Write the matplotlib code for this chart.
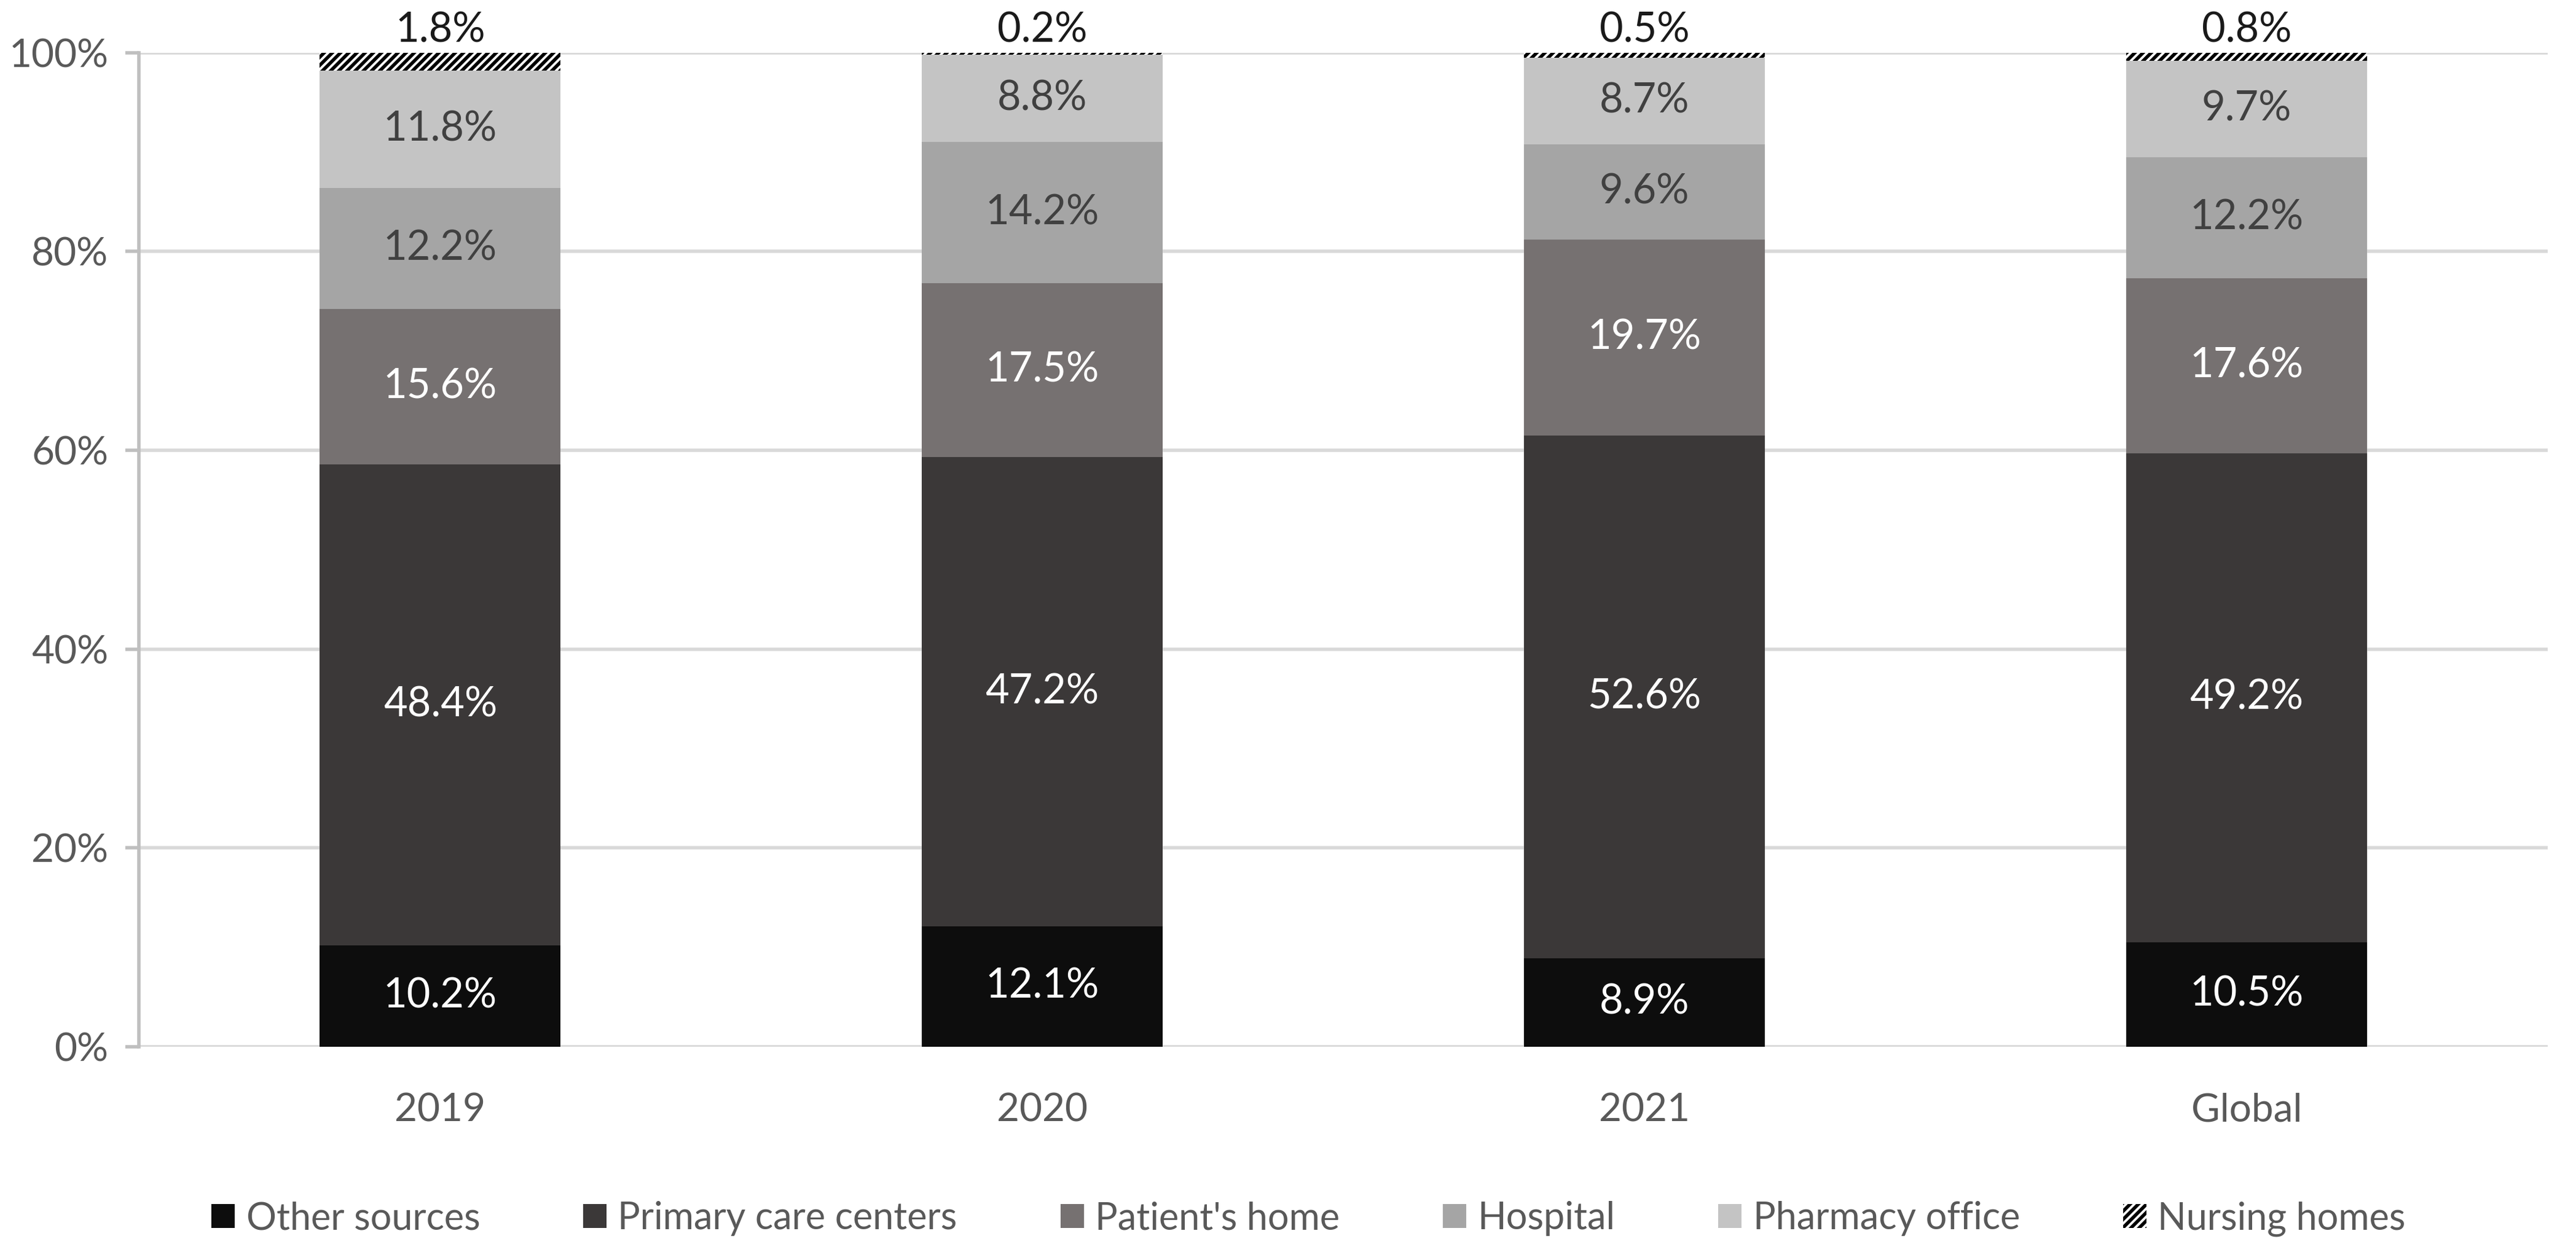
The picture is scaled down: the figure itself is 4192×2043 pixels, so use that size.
import numpy as np
import matplotlib
matplotlib.use("Agg")
import matplotlib.pyplot as plt

plt.rcParams['font.family'] = ['Lato', 'DejaVu Sans']
plt.rcParams['hatch.linewidth'] = 2.0

categories = ["2019", "2020", "2021", "Global"]
other = [10.2, 12.1, 8.9, 10.5]
primary = [48.4, 47.2, 52.6, 49.2]
patient = [15.6, 17.5, 19.7, 17.6]
hospital = [12.2, 14.2, 9.6, 12.2]
pharmacy = [11.8, 8.8, 8.7, 9.7]
nursing = [1.8, 0.2, 0.5, 0.8]

series = [
    ("Other sources", other, "#0d0d0d", "white"),
    ("Primary care centers", primary, "#3b3838", "white"),
    ("Patient's home", patient, "#767171", "white"),
    ("Hospital", hospital, "#a5a5a5", "#404040"),
    ("Pharmacy office", pharmacy, "#c4c4c4", "#404040"),
]

fig = plt.figure(figsize=(20.96, 10.215), dpi=200)
ax = fig.add_axes([0.054, 0.166, 0.935, 0.792])

x = np.arange(len(categories))
w = 0.4
bottom = np.zeros(len(categories))
for name, vals, col, tcol in series:
    vals = np.array(vals)
    ax.bar(x, vals, w, bottom=bottom, color=col, label=name, zorder=3)
    for xi, b, v in zip(x, bottom, vals):
        ax.text(xi, b + v / 2, f"{v:.1f}%", ha="center", va="center",
                color=tcol, fontsize=24, zorder=4)
    bottom += vals

vals = np.array(nursing)
ax.bar(x, vals, w, bottom=bottom, color="white", edgecolor="black",
       linewidth=0, hatch="/////", label="Nursing homes", zorder=3)
for xi, b, v in zip(x, bottom, vals):
    ax.text(xi, b + v + 0.3, f"{v:.1f}%", ha="center", va="bottom",
            color="#1a1a1a", fontsize=24, zorder=4)

ax.set_xlim(-0.5, 3.5)
ax.set_ylim(0, 100)
ax.set_yticks(np.arange(0, 101, 20))
ax.set_yticklabels([f"{t}%" for t in range(0, 101, 20)])
ax.set_xticks(x)
ax.set_xticklabels(categories)
ax.tick_params(axis="both", labelsize=23, labelcolor="#595959")
ax.tick_params(axis="y", length=8, width=2, color="#bfbfbf", pad=10)
ax.tick_params(axis="x", length=0, pad=27)
ax.yaxis.grid(True, color="#d9d9d9", linewidth=2, zorder=0)
for s in ["top", "right", "bottom"]:
    ax.spines[s].set_visible(False)
ax.spines["left"].set_color("#bfbfbf")
ax.spines["left"].set_linewidth(2)

leg = fig.legend(loc="center", bbox_to_anchor=(0.508, 0.029), ncol=6,
                 frameon=False, fontsize=22, handlelength=0.62, handleheight=0.62,
                 handletextpad=0.3, columnspacing=2.75)
for t in leg.get_texts():
    t.set_color("#595959")

fig.savefig("out.png", dpi=200)
